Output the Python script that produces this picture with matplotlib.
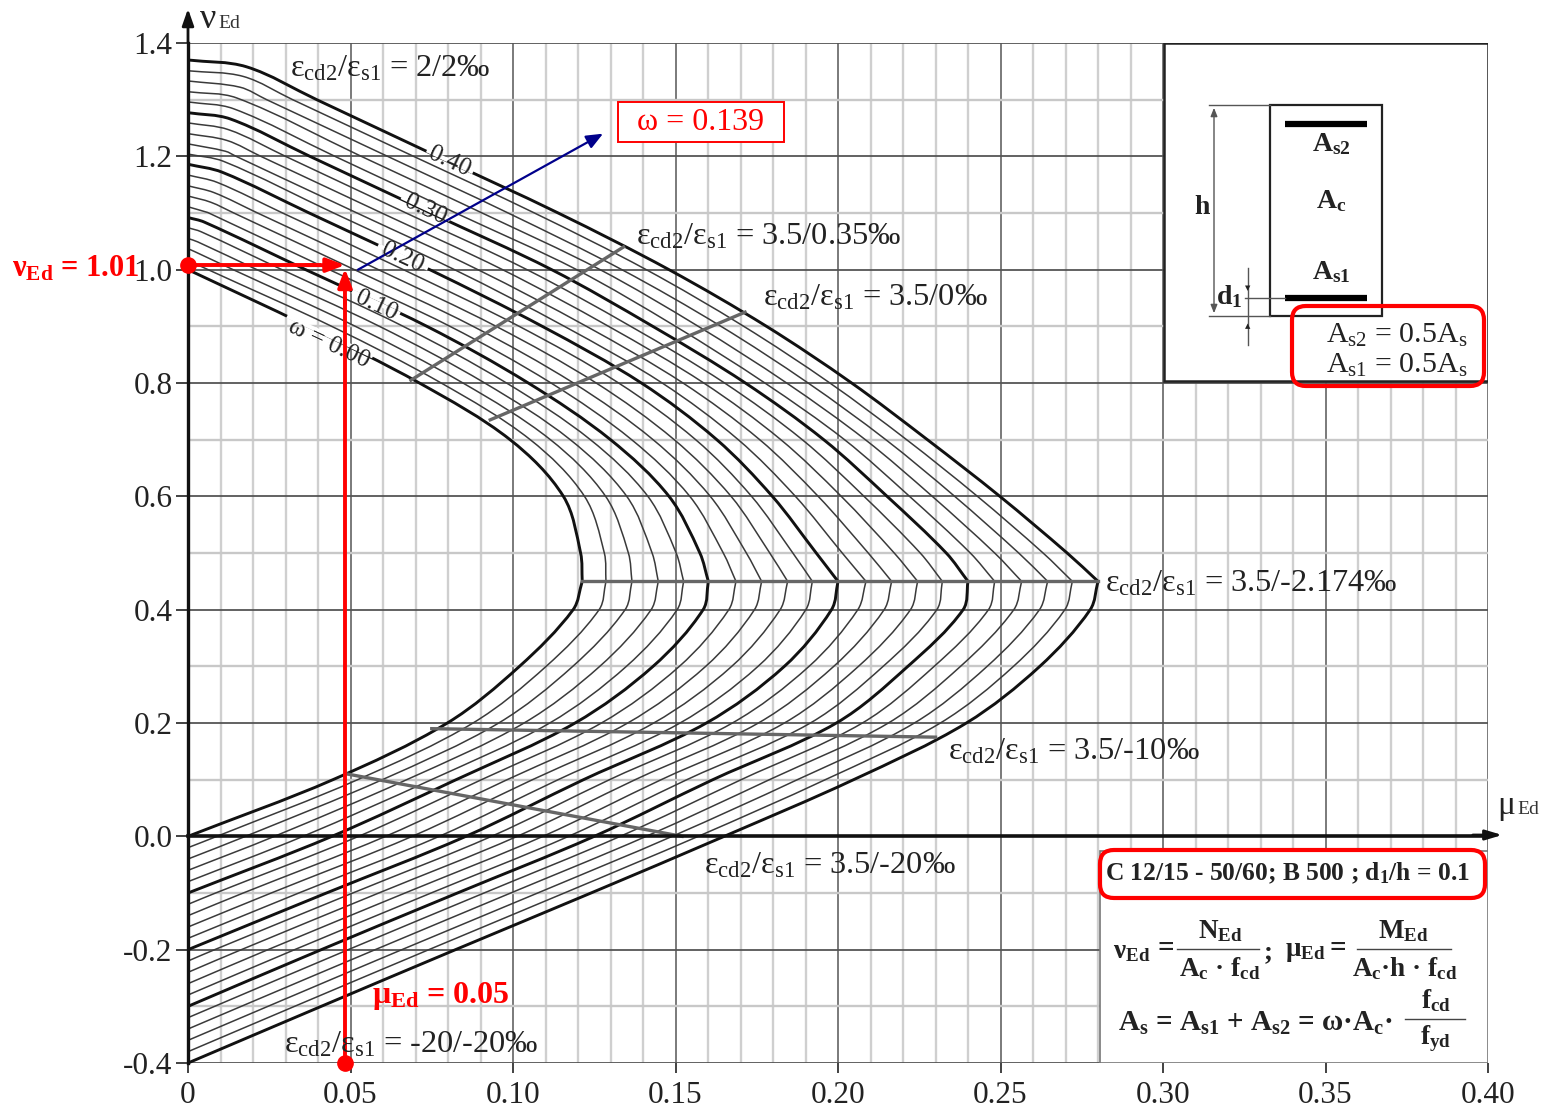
import numpy as np
import matplotlib
matplotlib.use('Agg')
import matplotlib.pyplot as plt
from matplotlib.patches import FancyBboxPatch, FancyArrowPatch, PathPatch, Rectangle
from matplotlib.path import Path
from matplotlib.lines import Line2D

plt.rcParams['font.family'] = ['Liberation Serif', 'DejaVu Serif']
plt.rcParams['mathtext.fontset'] = 'custom'
plt.rcParams['mathtext.rm'] = 'Liberation Serif'
plt.rcParams['mathtext.it'] = 'Liberation Serif:italic'
plt.rcParams['mathtext.bf'] = 'Liberation Serif:bold'

W, H = 1546, 1111
n = np.nan

# Curves, omega = 0.00 ... 0.40 in steps of 0.02
# start of each curve on the nu axis
nu_start = [1.000, 1.018, 1.037, 1.055, 1.074, 1.092, 1.111, 1.130, 1.148, 1.167, 1.186,
            1.204, 1.222, 1.240, 1.259, 1.277, 1.296, 1.314, 1.333, 1.351, 1.370]
knee_mu = [0, .001, .002, .003, .004, .005, .006, .007, .008, .009, .0105,
           .011, .0115, .012, .0125, .013, .014, .015, .016, .017, .018]
knee_nu = [1.000, 1.014, 1.032, 1.049, 1.067, 1.084, 1.101, 1.119, 1.136, 1.154, 1.172,
           1.191, 1.209, 1.228, 1.247, 1.266, 1.284, 1.303, 1.322, 1.341, 1.358]
# mu at fixed nu levels
nu_upper = [1.3, 1.2, 1.1, 1.0, 0.9, 0.8, 0.7, 0.6, 0.5, 0.45]
nu_lower = [0.45, 0.4, 0.3, 0.2, 0.1, 0.0, -0.1, -0.2, -0.3]
mu_130 = [n, n, n, n, n, n, n, n, n, n, n, n, n, n, n, n, n, n, .0242, .0322, .0396]
mu_120 = [n, n, n, n, n, n, n, n, n, n, n, n, .0148, .0224, .030, .0375, .0452, .0533, .0614, .0694, .0767]
mu_110 = [n, n, n, n, n, n, .0064, .0141, .0214, .0291, .0373, .0448, .052, .0596, .0671, .0747, .0824, .0905, .0985, .1066, .1139]
mu_100 = [0, .0062, .0139, .0212, .0289, .0362, .0435, .0512, .0586, .0663, .0744,
          .082, .0892, .0968, .1043, .1119, .1196, .1268, .1335, .141, .148]
mu_090 = [.0369, .0442, .0515, .0589, .0662, .0735, .0806, .0877, .0948, .1019, .109,
          .1158, .1226, .1294, .1362, .143, .150, .157, .164, .171, .178]
mu_080 = [.0712, .0779, .0846, .0913, .098, .1047, .1117, .1186, .1256, .1325, .1395,
          .1459, .1523, .1587, .1651, .1715, .1775, .1842, .1908, .1975, .2042]
mu_070 = [.0991, .1053, .1115, .1176, .1238, .13, .1365, .1431, .1496, .1562, .1627,
          .1693, .1759, .1824, .189, .1956, .202, .2084, .2147, .2211, .2275]
mu_060 = [.1155, .122, .1285, .135, .1415, .148, .1544, .1607, .1671, .1734, .1798,
          .1869, .1939, .201, .208, .2151, .222, .229, .2359, .2429, .2498]
mu_050 = [.1208, .1281, .1355, .1428, .1502, .1575, .1647, .1718, .179, .1861, .1933,
          .2013, .2093, .2173, .2253, .2333, .2407, .2482, .2556, .2631, .2705]
mu_045 = [.1213, .1286, .1366, .1447, .1525, .1601, .1686, .1765, .1845, .1921, .20,
          .2086, .2165, .2245, .2321, .24, .2482, .2565, .2645, .2721, .28]
mu_040 = [.1185, .1265, .1345, .1425, .1505, .1585, .1664, .1743, .1822, .1901, .198,
          .2061, .2142, .2223, .2304, .2385, .2463, .2541, .262, .2698, .2776]
mu_030 = [.102, .1102, .1184, .1267, .1349, .1431, .1512, .1593, .1673, .1754, .1835,
          .1911, .1987, .2063, .2139, .2215, .2296, .2377, .2459, .254, .2621]
mu_020 = [.0798, .0877, .0956, .1034, .1113, .1191, .1272, .1353, .1433, .1514, .1595,
          .1675, .1755, .1835, .1915, .1995, .2075, .2155, .2235, .2315, .2395]
mu_010 = [.0446, .0522, .0598, .0673, .0749, .0825, .0903, .0982, .106, .1139, .1217,
          .1297, .1376, .1456, .1535, .1615, .1702, .1789, .1875, .1961, .2048]
mu_000 = [0, .0089, .0177, .0266, .0354, .0443, .0525, .0608, .069, .0773, .0855,
          .0934, .1013, .1092, .1171, .125, .133, .141, .149, .157, .165]
mu_m10 = [n, n, n, n, n, 0, .0085, .017, .0256, .0341, .0426, .0507, .0587, .0668, .0748, .0829, .0911, .0993, .1076, .1158, .124]
mu_m20 = [n, n, n, n, n, n, n, n, n, n, 0, .0082, .0164, .0246, .0328, .041, .0493, .0576, .0658, .0741, .0823]
mu_m30 = [n, n, n, n, n, n, n, n, n, n, n, n, n, n, n, 0, .0082, .0164, .0246, .0328, .041]
# end of each curve on the nu axis
nu_end = [0, -.02, -.04, -.06, -.08, -.10, -.12, -.14, -.16, -.18, -.20,
          -.22, -.24, -.26, -.28, -.30, -.32, -.34, -.36, -.38, -.40]

mu_upper = [mu_130, mu_120, mu_110, mu_100, mu_090, mu_080, mu_070, mu_060, mu_050, mu_045]
mu_lower = [mu_045, mu_040, mu_030, mu_020, mu_010, mu_000, mu_m10, mu_m20, mu_m30]

# Strain state lines (gray)
state_mu = [[.0686, .134], [.093, .1714], [.1213, .28], [.075, .23], [.049, .152]]
state_nu = [[.805, 1.04], [.735, .925], [.45, .45], [.19, .175], [.11, 0.0]]

# Breaks in the thick curves where the omega labels sit
gap_mu = [[.0305, .0569], [.0505, .0652], [.0585, .0738], [.0657, .0806], [.0735, .0877]]
gap_nu = [[.918, .847], [.962, .922], [1.043, 1.002], [1.128, 1.088], [1.2107, 1.172]]

x_ticks = [0, .05, .10, .15, .20, .25, .30, .35, .40]
x_labels = ['0', '0.05', '0.10', '0.15', '0.20', '0.25', '0.30', '0.35', '0.40']
y_ticks = [-.4, -.2, 0, .2, .4, .6, .8, 1.0, 1.2, 1.4]
y_labels = ['-0.4', '-0.2', '0.0', '0.2', '0.4', '0.6', '0.8', '1.0', '1.2', '1.4']

fig = plt.figure(figsize=(W / 100, H / 100), dpi=100)
ax = fig.add_axes([188 / W, 1 - 1063 / H, 1300 / W, 1020 / H])
ax.set_xlim(0, .40)
ax.set_ylim(-.4, 1.4)
for s in ax.spines.values():
    s.set_visible(False)
ax.set_xticks(x_ticks)
ax.set_xticklabels(x_labels, fontsize=22.5, color='#222222')
ax.set_yticks(y_ticks)
ax.set_yticklabels(y_labels, fontsize=22.5, color='#222222')
ax.tick_params(axis='x', length=7, width=1.3, color='#333333', pad=6)
ax.tick_params(axis='y', length=9, width=1.3, color='#333333', pad=2)


def P(x, y):
    # reference pixels to figure fraction
    return x / W, 1 - y / H


def fline(xs, ys, **kw):
    pts = [P(a, b) for a, b in zip(xs, ys)]
    fig.add_artist(Line2D([p[0] for p in pts], [p[1] for p in pts], transform=fig.transFigure, **kw))


def ftext(x, y, s, **kw):
    kw.setdefault('ha', 'center')
    kw.setdefault('va', 'center')
    kw.setdefault('color', '#222222')
    fig.text(*P(x, y), s, **kw)


def smooth_path(mus, nus):
    # Bezier through the read points so the bends do not show as corners
    pts = np.column_stack([mus, nus])
    keep = np.r_[True, np.any(np.diff(pts, axis=0) != 0, axis=1)]
    pts = pts[keep]
    scr = pts * [3250, 566.67]
    verts = [tuple(pts[0])]
    codes = [Path.MOVETO]
    for k in range(len(pts) - 1):
        seg = np.hypot(*(scr[k + 1] - scr[k]))
        t0 = scr[k + 1] - scr[max(k - 1, 0)]
        t1 = scr[min(k + 2, len(pts) - 1)] - scr[k]
        c0 = scr[k] + t0 / np.hypot(*t0) * seg / 3
        c1 = scr[k + 1] - t1 / np.hypot(*t1) * seg / 3
        verts += [tuple(c0 / [3250, 566.67]), tuple(c1 / [3250, 566.67]), tuple(pts[k + 1])]
        codes += [Path.CURVE4] * 3
    return Path(verts, codes)


# Grid
for i in range(41):
    v = i / 100
    if i % 5 == 0:
        ax.axvline(v, color='#6f6f6f', lw=1.3, zorder=1)
    else:
        ax.axvline(v, color='#cfcfcf', lw=1.7, zorder=1)
for i in range(-4, 15):
    v = i / 10
    if i % 2 == 0:
        ax.axhline(v, color='#555555', lw=1.3, zorder=1)
    else:
        ax.axhline(v, color='#c8c8c8', lw=1.7, zorder=1)

# White boxes over the grid
ax.add_patch(Rectangle((.3003, .8035), .0997, .5965, fc='white', ec='#222222', lw=1.8, zorder=2))
ax.add_patch(Rectangle((.2806, -.4), .1194, .375, fc='white', ec='#777777', lw=1.2, zorder=2))

# Curves, upper and lower branch apart because they meet in a corner at nu = 0.45
for i in range(21):
    up_mu = [0, knee_mu[i]]
    up_nu = [nu_start[i], knee_nu[i]]
    for lev, row in zip(nu_upper, mu_upper):
        if not np.isnan(row[i]):
            up_mu.append(row[i])
            up_nu.append(lev)
    lo_mu = []
    lo_nu = []
    for lev, row in zip(nu_lower, mu_lower):
        if not np.isnan(row[i]):
            lo_mu.append(row[i])
            lo_nu.append(lev)
    lo_mu.append(0)
    lo_nu.append(nu_end[i])
    thick = i % 5 == 0
    for a, b in [(up_mu, up_nu), (lo_mu, lo_nu)]:
        ax.add_patch(PathPatch(smooth_path(a, b), fc='none', ec='#111111' if thick else '#3a3a3a',
                               lw=2.1 if thick else 1.1, zorder=4 if thick else 3, clip_on=False))

for a, b in zip(gap_mu, gap_nu):
    ax.plot(a, b, color='white', lw=3.0, zorder=5, solid_capstyle='butt')

for a, b in zip(state_mu, state_nu):
    ax.plot(a, b, color='#666666', lw=2.4, zorder=5)

# Axes with arrows
ax.plot([0, 0], [-.4, 1.4], color='#111111', lw=2.4, zorder=6, clip_on=False)
ax.plot([0, .40], [0, 0], color='#111111', lw=2.6, zorder=6, clip_on=False)
ax.annotate('', xy=P(188, 6), xytext=P(188, 45), xycoords='figure fraction', textcoords='figure fraction',
            arrowprops=dict(arrowstyle='-|>,head_width=.35,head_length=1.0', color='#111111', lw=2), zorder=7)
ax.annotate('', xy=P(1505, 835), xytext=P(1470, 835), xycoords='figure fraction', textcoords='figure fraction',
            arrowprops=dict(arrowstyle='-|>,head_width=.3,head_length=1.0', color='#111111', lw=2), zorder=7)
ftext(208, 20, 'ν', fontsize=26)
ftext(229, 24, 'Ed', fontsize=14, color='#333333')
ftext(1506, 806, 'μ', fontsize=24)
ftext(1528, 810, 'Ed', fontsize=14, color='#333333')

# Omega labels on the curves
ftext(449, 162, '0.40', fontsize=18, rotation=-25, zorder=8)
ftext(425, 210, '0.30', fontsize=18, rotation=-25, zorder=8)
ftext(402, 258, '0.20', fontsize=18, rotation=-25, zorder=8)
ftext(376, 306, '0.10', fontsize=18, rotation=-25, zorder=8)
ftext(329, 344, 'ω = 0.00', fontsize=18, rotation=-25, zorder=8)

# Strain labels
eps = 'ε$_{\\mathrm{cd2}}$/ε$_{\\mathrm{s1}}$ = '
ftext(290, 69, eps + '2/2‰', fontsize=23.3, ha='left')
ftext(636, 237, eps + '3.5/0.35‰', fontsize=23.3, ha='left')
ftext(763, 298, eps + '3.5/0‰', fontsize=23.3, ha='left')
ftext(1105, 584, eps + '3.5/-2.174‰', fontsize=23.3, ha='left')
ftext(948, 752, eps + '3.5/-10‰', fontsize=23.3, ha='left')
ftext(704, 866, eps + '3.5/-20‰', fontsize=23.3, ha='left')
ftext(284, 1045, eps + '-20/-20‰', fontsize=23.3, ha='left')

# Section sketch
fig.add_artist(Rectangle(P(1270, 316), 112 / W, 211 / H, transform=fig.transFigure, fc='none', ec='#222222', lw=1.6))
fline([1285, 1367], [124, 124], color='black', lw=4.5, solid_capstyle='butt')
fline([1285, 1367], [298, 298], color='black', lw=4.5, solid_capstyle='butt')
fline([1209, 1270], [105, 105], color='#555555', lw=1.0)
fline([1209, 1270], [316, 316], color='#555555', lw=1.0)
fline([1245, 1285], [298, 298], color='#555555', lw=1.0)
fig.add_artist(FancyArrowPatch(P(1214, 105), P(1214, 316), transform=fig.transFigure,
                               arrowstyle='<|-|>,head_width=2,head_length=5', color='#555555', lw=1.0))
fline([1248, 1248], [268, 345], color='#555555', lw=1.0)
ftext(1248, 288, '▼', fontsize=5, color='#222222', family='DejaVu Sans')
ftext(1248, 326, '▲', fontsize=5, color='#222222', family='DejaVu Sans')
bold = dict(fontweight='bold', color='#222222')
ftext(1202, 207, 'h', fontsize=20, **bold)
ftext(1229, 297, 'd$_{\\mathbf{1}}$', fontsize=20, **bold)
ftext(1331, 144, 'A$_{\\mathbf{s2}}$', fontsize=20, **bold)
ftext(1331, 201, 'A$_{\\mathbf{c}}$', fontsize=20, **bold)
ftext(1331, 272, 'A$_{\\mathbf{s1}}$', fontsize=20, **bold)
ftext(1397, 335, 'A$_{\\mathrm{s2}}$ = 0.5A$_{\\mathrm{s}}$', fontsize=21.5)
ftext(1397, 365, 'A$_{\\mathrm{s1}}$ = 0.5A$_{\\mathrm{s}}$', fontsize=21.5)

# Formula box
ftext(1287, 873, 'C 12/15 - 50/60; B 500 ; d$_{\\mathbf{1}}$/h = 0.1', fontsize=18.4, **bold)
ftext(1132, 952, 'ν$_{\\mathbf{Ed}}$', fontsize=19.5, **bold)
ftext(1166, 949, '=', fontsize=21, **bold)
fline([1177, 1259], [949, 949], color='#444444', lw=1.0)
ftext(1220, 931, 'N$_{\\mathbf{Ed}}$', fontsize=19.5, **bold)
ftext(1220, 969, 'A$_{\\mathbf{c}}$ · f$_{\\mathbf{cd}}$', fontsize=19.5, **bold)
ftext(1268, 953, ';', fontsize=19.5, **bold)
ftext(1305, 951, 'μ$_{\\mathbf{Ed}}$', fontsize=19.5, **bold)
ftext(1338, 949, '=', fontsize=21, **bold)
fline([1357, 1451], [949, 949], color='#444444', lw=1.0)
ftext(1403, 931, 'M$_{\\mathbf{Ed}}$', fontsize=19.5, **bold)
ftext(1405, 969, 'A$_{\\mathbf{c}}$·h · f$_{\\mathbf{cd}}$', fontsize=19.5, **bold)
ftext(1118, 1023, 'A$_{\\mathbf{s}}$ = A$_{\\mathbf{s1}}$ + A$_{\\mathbf{s2}}$ = ω·A$_{\\mathbf{c}}$·',
      fontsize=21, ha='left', **bold)
fline([1405, 1465], [1019, 1019], color='#444444', lw=1.0)
ftext(1436, 1001, 'f$_{\\mathbf{cd}}$', fontsize=19.5, **bold)
ftext(1436, 1039, 'f$_{\\mathbf{yd}}$', fontsize=19.5, **bold)

# Red annotations
red = '#ff0000'
mu_read = 0.0483
nu_read = 1.008
ax.plot([mu_read, mu_read], [-.4, nu_read - .06], color=red, lw=2.8, zorder=9, clip_on=False)
ax.plot([0, mu_read - .008], [nu_read, nu_read], color=red, lw=2.8, zorder=9)
ax.plot([0], [nu_read], 'o', color=red, ms=11, zorder=10, clip_on=False)
ax.plot([mu_read], [-.4], 'o', color=red, ms=11, zorder=10, clip_on=False)
ax.annotate('', xy=(mu_read, nu_read - .006), xytext=(mu_read, nu_read - .07), zorder=10,
            arrowprops=dict(arrowstyle='-|>,head_width=.42,head_length=1.1', color=red, lw=2.8, shrinkA=0, shrinkB=0))
ax.annotate('', xy=(mu_read, nu_read), xytext=(mu_read - .012, nu_read), zorder=10,
            arrowprops=dict(arrowstyle='-|>,head_width=.42,head_length=1.1', color=red, lw=2.8, shrinkA=0, shrinkB=0))
ax.annotate('', xy=(.1277, 1.24), xytext=(.0523, 1.0), zorder=10,
            arrowprops=dict(arrowstyle='-|>,head_width=.42,head_length=1.0', color='#00008b', lw=1.6, shrinkA=0, shrinkB=0))

redbold = dict(color=red, fontweight='bold')
ftext(12, 269, 'ν$_{\\mathbf{Ed}}$ = 1.01', fontsize=22, ha='left', zorder=11, **redbold)
ftext(372, 996, 'μ$_{\\mathbf{Ed}}$ = 0.05', fontsize=23, ha='left', zorder=11, **redbold)

fig.add_artist(Rectangle(P(618, 142), 166 / W, 40 / H, transform=fig.transFigure, fc='white', ec=red, lw=1.4, zorder=8))
ftext(701, 123, 'ω = 0.139', fontsize=23, color=red, zorder=11)

for x0, y0, x1, y1 in [(1292, 386, 1484, 306), (1100, 898, 1485, 850)]:
    fig.add_artist(FancyBboxPatch(P(x0, y0), (x1 - x0) / W, (y0 - y1) / H,
                                  boxstyle='round,pad=0,rounding_size=0.009', transform=fig.transFigure,
                                  fc='none', ec=red, lw=3.0, zorder=9, mutation_aspect=W / H))

fig.savefig('out.png', dpi=100)
